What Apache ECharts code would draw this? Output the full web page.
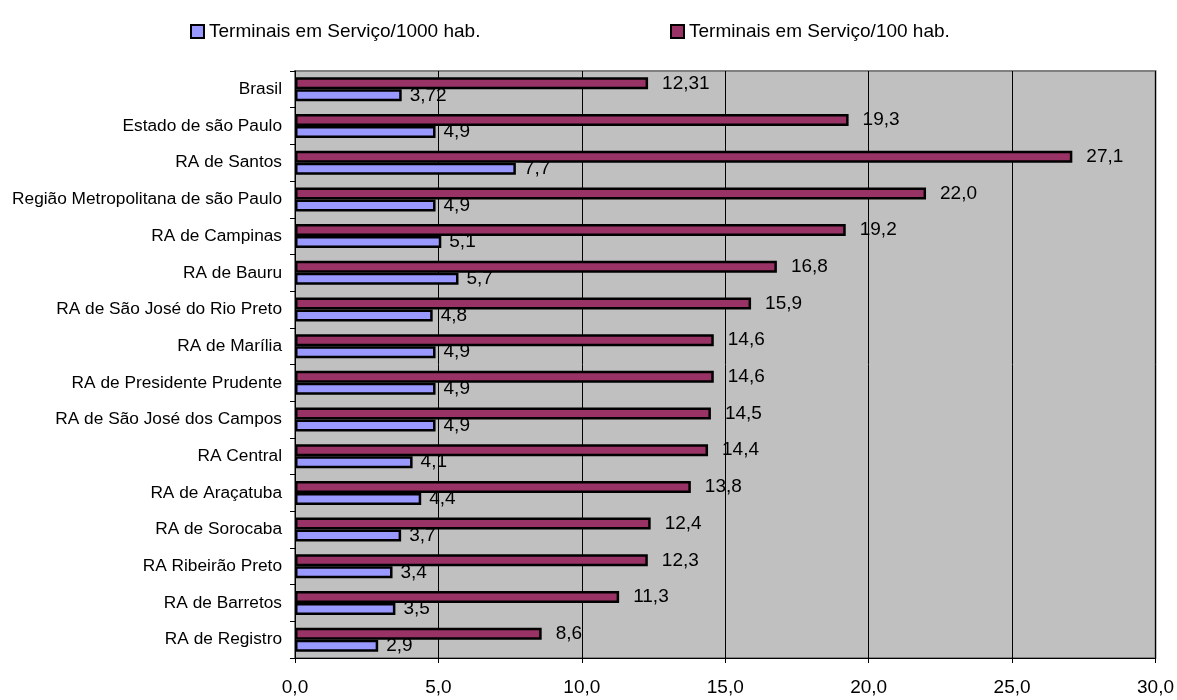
<!DOCTYPE html>
<html>
<head>
<meta charset="utf-8">
<script src="https://cdn.jsdelivr.net/npm/echarts@6/dist/echarts.min.js"></script>
<style>
  html, body { margin: 0; padding: 0; background: #ffffff; }
  #chart { width: 1177px; height: 700px; }
</style>
</head>
<body>
<div id="chart"></div>
<script>
// Regions, top to bottom
const categories = [
  'Brasil',
  'Estado de são Paulo',
  'RA de Santos',
  'Região Metropolitana de são Paulo',
  'RA de Campinas',
  'RA de Bauru',
  'RA de São José do Rio Preto',
  'RA de Marília',
  'RA de Presidente Prudente',
  'RA de São José dos Campos',
  'RA Central',
  'RA de Araçatuba',
  'RA de Sorocaba',
  'RA Ribeirão Preto',
  'RA de Barretos',
  'RA de Registro'
];

const seriesNames = ['Terminais em Serviço/1000 hab.', 'Terminais em Serviço/100 hab.'];

const per1000 = [3.72, 4.9, 7.7, 4.9, 5.1, 5.7, 4.8, 4.9, 4.9, 4.9, 4.1, 4.4, 3.7, 3.4, 3.5, 2.9];
const per100 = [12.31, 19.3, 27.1, 22.0, 19.2, 16.8, 15.9, 14.6, 14.6, 14.5, 14.4, 13.8, 12.4, 12.3, 11.3, 8.6];

const xTicks = [0, 5, 10, 15, 20, 25, 30];

const FONT = "'Liberation Sans', Arial, sans-serif";

// Brazilian decimal comma; keep two decimals only where the value has them
function fmt(v) {
  const oneDec = Math.abs(Math.round(v * 10) - v * 10) < 1e-9;
  return v.toFixed(oneDec ? 1 : 2).replace('.', ',');
}

const chart = echarts.init(document.getElementById('chart'), null, { renderer: 'canvas' });

const barLabel = {
  show: true,
  position: 'right',
  color: '#000',
  fontFamily: FONT,
  fontSize: 19,
  formatter: p => fmt(p.value)
};

const legendBase = {
  top: 17,
  icon: 'rect',
  itemWidth: 13, itemHeight: 13, itemGap: 5,
  textStyle: { fontFamily: FONT, fontSize: 19, color: '#000', padding: [0, 0, 0, 0] },
  selectedMode: false
};

chart.setOption({
  animation: false,
  backgroundColor: '#ffffff',
  textStyle: { fontFamily: FONT },
  legend: [
    Object.assign({}, legendBase, { data: [seriesNames[0]], left: 185 }),
    Object.assign({}, legendBase, { data: [seriesNames[1]], left: 665 })
  ],
  grid: {
    left: 295, right: 21, top: 71, bottom: 42,
    show: true,
    backgroundColor: '#C0C0C0',
    borderColor: '#808080',
    borderWidth: 2
  },
  xAxis: {
    type: 'value',
    min: xTicks[0],
    max: xTicks[xTicks.length - 1],
    interval: xTicks[1] - xTicks[0],
    axisLine: { show: true, onZero: false, lineStyle: { color: '#000', width: 1 } },
    axisTick: { show: true, length: 5, lineStyle: { color: '#000' } },
    splitLine: { show: true, lineStyle: { color: '#000', width: 1 } },
    axisLabel: {
      color: '#000', fontFamily: FONT, fontSize: 19, margin: 20,
      formatter: v => fmt(v)
    }
  },
  yAxis: {
    type: 'category',
    data: categories,
    inverse: true,
    axisLine: { show: true, lineStyle: { color: '#000', width: 1 } },
    axisTick: { show: true, length: 5, lineStyle: { color: '#000' } },
    axisLabel: { color: '#000', fontFamily: FONT, fontSize: 17.3, margin: 13 }
  },
  series: [
    {
      type: 'bar',
      name: seriesNames[1],
      data: per100,
      barWidth: 12,
      barGap: '0%',
      itemStyle: { color: '#993366', borderColor: '#000', borderWidth: 2.5 },
      label: Object.assign({}, barLabel, { distance: 14 })
    },
    {
      type: 'bar',
      name: seriesNames[0],
      data: per1000,
      barWidth: 12,
      barGap: '0%',
      itemStyle: { color: '#9999FF', borderColor: '#000', borderWidth: 2.5 },
      label: Object.assign({}, barLabel, { distance: 8 })
    }
  ]
});
</script>
</body>
</html>
